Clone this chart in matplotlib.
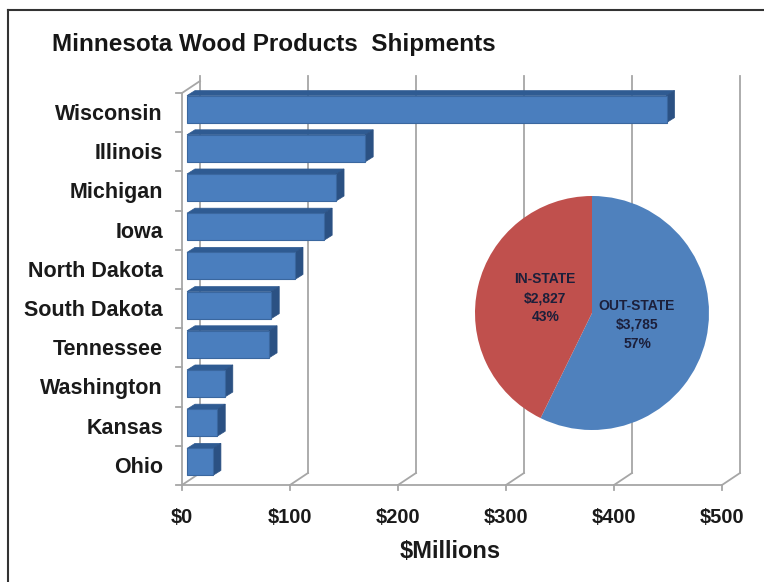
import numpy as np
import matplotlib
matplotlib.use('Agg')
import matplotlib.pyplot as plt
from matplotlib.patches import Polygon
from matplotlib.lines import Line2D

plt.rcParams['font.family'] = ['Liberation Sans', 'DejaVu Sans']

# top ten destination states, $ millions
states = ['Wisconsin', 'Illinois', 'Michigan', 'Iowa', 'North Dakota',
          'South Dakota', 'Tennessee', 'Washington', 'Kansas', 'Ohio']
shipments = [444, 165, 138, 127, 100, 78, 76, 35, 28, 24]
x_ticks = [0, 100, 200, 300, 400, 500]
x_tick_labels = ['$0', '$100', '$200', '$300', '$400', '$500']

# in-state vs out-of-state totals
share_names = ['OUT-STATE', 'IN-STATE']
share_values = [3785, 2827]
share_colors = ['#4F81BD', '#C0504D']

W, H = 764, 582
fig = plt.figure(figsize=(W / 100, H / 100), dpi=100)
fig.patch.set_facecolor('white')

# pixel geometry of the fake 3d plot area
PX_PER_DOLLAR = 1.08
PX_PER_ROW = 39.2
left_px, right_px, top_px, floor_px = 182, 745, 70, 485
n = len(states)
floor_y = n - 0.5

ax = fig.add_axes([left_px / W, (H - floor_px) / H,
                   (right_px - left_px) / W, (floor_px - top_px) / H])
ax.set_xlim(0, (right_px - left_px) / PX_PER_DOLLAR)
ax.set_ylim(floor_y, floor_y - (floor_px - top_px) / PX_PER_ROW)
ax.axis('off')


def dx(px):
    return px / PX_PER_DOLLAR


def dy(px):
    # screen-up pixels to (inverted) row units
    return -px / PX_PER_ROW


grid_c = '#A6A6A6'
wall_x, wall_y = dx(18), dy(12)
grid_top = floor_y + dy(485 - 76)

# back wall gridlines and floor
for v, lab in zip(x_ticks, x_tick_labels):
    ax.plot([v + wall_x, v + wall_x], [floor_y + wall_y, grid_top],
            color=grid_c, lw=1.3, clip_on=False, zorder=1)
    ax.plot([v, v + wall_x], [floor_y, floor_y + wall_y],
            color=grid_c, lw=1.3, clip_on=False, zorder=1)
    ax.plot([v, v], [floor_y, floor_y - dy(5)],
            color=grid_c, lw=1.3, clip_on=False, zorder=1)
    ax.text(v, floor_y - dy(523 - 485), lab,
            ha='center', va='baseline', fontsize=14.5, fontweight='bold',
            color='#1a1a1a')
ax.plot([0, x_ticks[-1]], [floor_y, floor_y], color=grid_c, lw=1.3,
        clip_on=False, zorder=1)

# left wall
ax.plot([0, 0], [floor_y, -0.5], color=grid_c, lw=1.3, clip_on=False, zorder=1)
ax.plot([0, wall_x], [-0.5, -0.5 + wall_y], color=grid_c, lw=1.3,
        clip_on=False, zorder=1)
for b in np.arange(-0.5, n, 1.0):
    ax.plot([dx(-6), 0], [b, b], color=grid_c, lw=1.3, clip_on=False, zorder=1)

ax.text(248, floor_y - dy(558 - 485), '$Millions', ha='center', va='baseline',
        fontsize=17, fontweight='bold', color='#1a1a1a')

# bars: front face, top face, end face
bx0, by0 = dx(5), dy(3.5)
ddx, ddy = dx(8), dy(5)
half = 0.345
front_c, top_c, side_c, edge_c = '#4A7EBE', '#2F5B92', '#2B5183', '#3A679F'
for i, (name, v) in enumerate(zip(states, shipments)):
    t = i - half + by0
    b = i + half + by0
    x1 = bx0 + v
    ax.add_patch(Polygon([(bx0, t), (x1, t), (x1 + ddx, t + ddy),
                          (bx0 + ddx, t + ddy)], closed=True,
                         facecolor=top_c, edgecolor=top_c, lw=0.5, zorder=3))
    ax.add_patch(Polygon([(x1, t), (x1, b), (x1 + ddx, b + ddy),
                          (x1 + ddx, t + ddy)], closed=True,
                         facecolor=side_c, edgecolor=side_c, lw=0.5, zorder=3))
    ax.add_patch(Polygon([(bx0, t), (x1, t), (x1, b), (bx0, b)], closed=True,
                         facecolor=front_c, edgecolor=edge_c, lw=0.8, zorder=4))
    ax.text(dx(163 - 182), i + 0.19, name, ha='right', va='baseline',
            fontsize=15.5, fontweight='bold', color='#1a1a1a')

# pie inset
pc_x, pc_y, pr = 592, 313, 117
pax = fig.add_axes([(pc_x - pr) / W, (H - pc_y - pr) / H, 2 * pr / W, 2 * pr / H])
pax.pie(share_values, colors=share_colors, startangle=90, counterclock=False,
        radius=1.0, wedgeprops=dict(linewidth=0))
pax.set_xlim(-1, 1)
pax.set_ylim(-1, 1)
pax.set_aspect('equal')
pax.axis('off')
total = sum(share_values)
label_pos = {'OUT-STATE': (0.385, -0.10), 'IN-STATE': (-0.40, 0.128)}
for name, val in zip(share_names, share_values):
    pct = round(100 * val / total)
    px_, py_ = label_pos[name]
    pax.text(px_, py_, f'{name}\n${val:,}\n{pct}%', ha='center', va='center',
             multialignment='center', fontsize=10, fontweight='bold',
             color='#1c1f3a', linespacing=1.45)

# title and outer frame
fig.text(52 / W, 1 - 45 / H, 'Minnesota Wood Products  Shipments',
         ha='left', va='center', fontsize=17.5, fontweight='bold',
         color='#161616')
fig.add_artist(Line2D([8 / W, 8 / W], [0, 1 - 10 / H], color='#333333', lw=1.5))
fig.add_artist(Line2D([8 / W, 1], [1 - 10 / H, 1 - 10 / H], color='#333333', lw=1.5))

fig.savefig('out.png', dpi=100)
